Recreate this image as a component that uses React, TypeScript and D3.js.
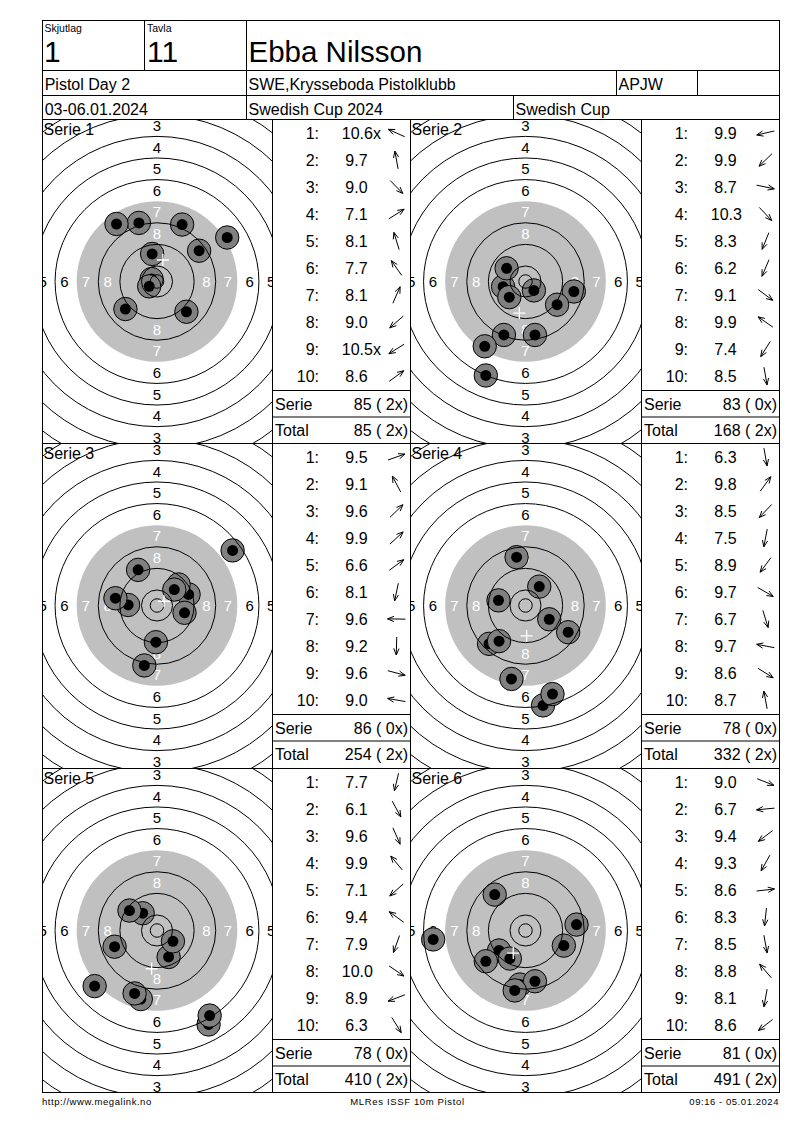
import React from "react";
import * as d3 from "d3";

const FONT = "'Liberation Sans', Arial, Helvetica, sans-serif";

// ---------- data ----------
const seriesNames = ["Serie 1", "Serie 2", "Serie 3", "Serie 4", "Serie 5", "Serie 6"];

const s1Scores = ["10.6x", "9.7", "9.0", "7.1", "8.1", "7.7", "8.1", "9.0", "10.5x", "8.6"];
const s1X = [-2.0, -1.8, 10.9, 26.0, -6.7, -15.0, 9.3, -11.7, -2.9, 15.6];
const s1Y = [0.9, 10.2, -11.2, 16.3, 21.7, 21.3, 21.1, -10.2, -1.8, 11.4];

const s2Scores = ["9.9", "9.9", "8.7", "10.3", "8.3", "6.2", "9.1", "9.9", "7.4", "8.5"];
const s2X = [-8.3, -6.0, 17.9, 3.1, -8.0, -14.7, 11.7, -7.0, -15.1, 3.5];
const s2Y = [-1.9, -5.8, -3.7, -3.3, -19.8, -34.8, -8.6, 4.9, -24.0, -19.8];

const s3Scores = ["9.5", "9.1", "9.6", "9.9", "6.6", "8.1", "9.6", "9.2", "9.6", "9.0"];
const s3X = [11.7, -7.0, 8.0, 6.4, 28.0, -4.7, -10.7, -0.4, 10.2, -15.4];
const s3Y = [4.1, 13.2, 7.8, 5.9, 20.4, -22.2, 0.2, -13.6, -2.7, 2.7];

const s4Scores = ["6.3", "9.8", "8.5", "7.5", "8.9", "9.7", "6.7", "9.7", "8.6", "8.7"];
const s4X = [6.5, 5.1, -13.5, -5.2, -9.8, 8.8, 10.0, -10.0, 15.8, -3.3];
const s4Y = [-37.0, 7.0, -14.2, -27.2, -13.2, -5.1, -32.8, 1.9, -9.9, 17.9];

const s5Scores = ["7.7", "6.1", "9.6", "9.9", "7.1", "9.4", "7.9", "10.0", "8.9", "6.3"];
const s5X = [-6.0, 19.1, 4.3, -5.3, -23.1, -10.2, -8.3, 5.9, -15.7, 19.5];
const s5Y = [-25.4, -34.8, -9.8, 6.4, -20.6, 7.4, -23.3, -4.0, -6.0, -31.5];

const s6Scores = ["9.0", "6.7", "9.4", "9.3", "8.6", "8.3", "8.5", "8.8", "8.1", "8.6"];
const s6X = [14.2, -34.2, -9.8, -5.8, 18.9, -2.1, 3.5, -11.4, -4.0, -14.7];
const s6Y = [-5.6, -3.3, -7.4, -10.4, 2.2, -20.0, -18.8, 13.3, -22.2, -11.4];

const serieSums = ["85 ( 2x)", "83 ( 0x)", "86 ( 0x)", "78 ( 0x)", "78 ( 0x)", "81 ( 0x)"];
const runningTotals = ["85 ( 2x)", "168 ( 2x)", "254 ( 2x)", "332 ( 2x)", "410 ( 2x)", "491 ( 2x)"];

// ISSF 10m air pistol target, ring outer radii in mm (ring 10 .. ring 1)
const ringValues = [10, 9, 8, 7, 6, 5, 4, 3, 2, 1];
const ringRadii = [5.75, 13.75, 21.75, 29.75, 37.75, 45.75, 53.75, 61.75, 69.75, 77.75];
const innerTenRadius = 2.5;
const labelledRings = [8, 7, 6, 5, 4, 3];

// header texts
const headerSkjutlag = "1";
const headerTavla = "11";
const shooterName = "Ebba Nilsson";
const eventName = "Pistol Day 2";
const clubName = "SWE,Krysseboda Pistolklubb";
const classCode = "APJW";
const dateText = "03-06.01.2024";
const competition = "Swedish Cup 2024";
const cupName = "Swedish Cup";
const footerLeft = "http://www.megalink.no";
const footerMid = "MLRes ISSF 10m Pistol";
const footerRight = "09:16 - 05.01.2024";

const seriesData = [
  { scores: s1Scores, xs: s1X, ys: s1Y },
  { scores: s2Scores, xs: s2X, ys: s2Y },
  { scores: s3Scores, xs: s3X, ys: s3Y },
  { scores: s4Scores, xs: s4X, ys: s4Y },
  { scores: s5Scores, xs: s5X, ys: s5Y },
  { scores: s6Scores, xs: s6X, ys: s6Y },
];

// ---------- layout ----------
const LEFT = 42.5;
const RIGHT = 779.5;
const TOP = 20.5;
const colTargetX = [42.5, 410.5];
const colTargetW = [230, 231];
const colTableX = [272.5, 641.5];
const colTableR = [410.5, 779.5];
const rowTop = [119.5, 443.5, 768.5];
const BOTTOM = 1092.5;
const PX_PER_MM = 2.7;

function Target({ idx }: { idx: number }) {
  const row = Math.floor(idx / 2);
  const col = idx % 2;
  const x0 = colTargetX[col];
  const w = colTargetW[col];
  const y0 = rowTop[row];
  const y1 = row < 2 ? rowTop[row + 1] : BOTTOM;
  const h = y1 - y0;
  const cx = x0 + w / 2 - 0.5;
  const cy = y0 + 162;
  const xS = d3.scaleLinear().domain([0, 1]).range([cx, cx + PX_PER_MM]);
  const yS = d3.scaleLinear().domain([0, 1]).range([cy, cy - PX_PER_MM]);
  const rS = d3.scaleLinear().domain([0, 1]).range([0, PX_PER_MM]);
  const data = seriesData[idx];
  const clipId = `clip-t${idx}`;
  const meanX = d3.mean(data.xs) as number;
  const meanY = d3.mean(data.ys) as number;
  const r7 = ringRadii[ringValues.indexOf(7)];

  const labels: React.ReactNode[] = [];
  labelledRings.forEach((v) => {
    const i = ringValues.indexOf(v);
    const rMid = rS((ringRadii[i] + ringRadii[i - 1]) / 2);
    const rH = rMid + 1.5;
    const fill = v >= 7 ? "#ffffff" : "#000000";
    const pos = [
      [cx, cy - rMid],
      [cx, cy + rMid],
      [cx - rH, cy],
      [cx + rH, cy],
    ];
    pos.forEach(([px, py], k) => {
      labels.push(
        <text key={`l${v}-${k}`} x={px} y={py} dy="0.36em" textAnchor="middle" fontSize={15} fill={fill} fontFamily={FONT}>
          {v}
        </text>
      );
    });
  });

  const circles = [innerTenRadius, ...ringRadii.filter((_, i) => ringValues[i] !== 7)];
  const mx = xS(meanX);
  const my = yS(meanY);

  return (
    <g>
      <defs>
        <clipPath id={clipId}>
          <rect x={x0} y={y0} width={w} height={h} />
        </clipPath>
      </defs>
      <g clipPath={`url(#${clipId})`}>
        <rect x={x0} y={y0} width={w} height={h} fill="#ffffff" />
        <circle cx={cx} cy={cy} r={rS(r7)} fill="#c0c0c0" />
        {labels}
        <text x={x0 + 1} y={y0 + 15} fontSize={16} fontFamily={FONT} fill="#000">
          {seriesNames[idx]}
        </text>
        {data.xs.map((sx, i) => (
          <g key={`s${i}`}>
            <circle cx={xS(sx)} cy={yS(data.ys[i])} r={11.7} fill="#808080" stroke="#000" strokeWidth={1} />
            <circle cx={xS(sx)} cy={yS(data.ys[i])} r={5.5} fill="#000" />
          </g>
        ))}
        {circles.map((r, i) => (
          <circle key={`c${i}`} cx={cx} cy={cy} r={rS(r)} fill="none" stroke="#000" strokeWidth={1} />
        ))}
        <line x1={mx - 6} x2={mx + 6} y1={my} y2={my} stroke="#fff" strokeWidth={1.3} />
        <line x1={mx} x2={mx} y1={my - 6} y2={my + 6} stroke="#fff" strokeWidth={1.3} />
      </g>
    </g>
  );
}

function Arrow({ cx, cy, ang }: { cx: number; cy: number; ang: number }) {
  const L = 9;
  const dx = Math.cos(ang);
  const dy = -Math.sin(ang);
  const tx = cx + L * dx;
  const ty = cy + L * dy;
  const sx = cx - L * dx;
  const sy = cy - L * dy;
  const head = 7;
  const spread = (22 * Math.PI) / 180;
  const back = Math.atan2(-dy, -dx);
  const h1x = tx + head * Math.cos(back + spread);
  const h1y = ty + head * Math.sin(back + spread);
  const h2x = tx + head * Math.cos(back - spread);
  const h2y = ty + head * Math.sin(back - spread);
  return (
    <g stroke="#000" strokeWidth={1} fill="none">
      <line x1={sx} y1={sy} x2={tx} y2={ty} />
      <line x1={tx} y1={ty} x2={h1x} y2={h1y} />
      <line x1={tx} y1={ty} x2={h2x} y2={h2y} />
    </g>
  );
}

function ScoreTable({ idx }: { idx: number }) {
  const row = Math.floor(idx / 2);
  const col = idx % 2;
  const tx = colTableX[col];
  const tr = colTableR[col];
  const y0 = rowTop[row];
  const data = seriesData[idx];
  return (
    <g fontFamily={FONT} fontSize={16} fill="#000">
      {data.scores.map((s, i) => {
        const cyRow = y0 + 13.5 + 27 * i;
        const base = cyRow + 5.7;
        const big = parseFloat(s) >= 10;
        return (
          <g key={`r${i}`}>
            <text x={tx + 46.5} y={base} textAnchor="end">{`${i + 1}:`}</text>
            <text x={tx + (big ? 69.3 : 72.8)} y={base}>{s}</text>
            <Arrow cx={tx + 124} cy={cyRow} ang={Math.atan2(data.ys[i], data.xs[i])} />
          </g>
        );
      })}
      <line x1={tx} x2={tr} y1={y0 + 271} y2={y0 + 271} stroke="#000" />
      <line x1={tx} x2={tr} y1={y0 + 297.5} y2={y0 + 297.5} stroke="#000" />
      <text x={tx + 2.5} y={y0 + 290}>Serie</text>
      <text x={tr - 2.5} y={y0 + 290} textAnchor="end">{serieSums[idx]}</text>
      <text x={tx + 2.5} y={y0 + 316.5}>Total</text>
      <text x={tr - 2.5} y={y0 + 316.5} textAnchor="end">{runningTotals[idx]}</text>
    </g>
  );
}

function Header() {
  const L = { stroke: "#000", strokeWidth: 1 };
  return (
    <g fontFamily={FONT} fill="#000">
      <line x1={LEFT} x2={RIGHT} y1={70.5} y2={70.5} {...L} />
      <line x1={LEFT} x2={RIGHT} y1={95.5} y2={95.5} {...L} />
      <line x1={144.5} x2={144.5} y1={TOP} y2={70.5} {...L} />
      <line x1={246.5} x2={246.5} y1={TOP} y2={119.5} {...L} />
      <line x1={616.5} x2={616.5} y1={70.5} y2={95.5} {...L} />
      <line x1={697.5} x2={697.5} y1={70.5} y2={95.5} {...L} />
      <line x1={513.5} x2={513.5} y1={95.5} y2={119.5} {...L} />
      <text x={44.5} y={31.5} fontSize={10.5}>Skjutlag</text>
      <text x={147} y={31.5} fontSize={10.5}>Tavla</text>
      <text x={44} y={62.3} fontSize={30}>{headerSkjutlag}</text>
      <text x={147} y={62.3} fontSize={30}>{headerTavla}</text>
      <text x={248.5} y={62.3} fontSize={29.5}>{shooterName}</text>
      <text x={44.7} y={90.3} fontSize={16}>{eventName}</text>
      <text x={248.5} y={90.3} fontSize={16}>{clubName}</text>
      <text x={618.5} y={90.3} fontSize={16}>{classCode}</text>
      <text x={44.7} y={114.8} fontSize={16}>{dateText}</text>
      <text x={248.5} y={114.8} fontSize={16}>{competition}</text>
      <text x={515.5} y={114.8} fontSize={16}>{cupName}</text>
    </g>
  );
}

export default function App() {
  const L = { stroke: "#000", strokeWidth: 1 };
  return (
    <svg
      width={800}
      height={1130}
      viewBox="0 0 800 1130"
      style={{ position: "absolute", left: 0, top: 0, background: "#fff" }}
    >
      <rect x={0} y={0} width={800} height={1130} fill="#fff" />
      {seriesNames.map((_, i) => (
        <Target key={`t${i}`} idx={i} />
      ))}
      {seriesNames.map((_, i) => (
        <ScoreTable key={`st${i}`} idx={i} />
      ))}
      <Header />
      {/* grid lines */}
      {rowTop.map((y, i) => (
        <line key={`h${i}`} x1={LEFT} x2={RIGHT} y1={y} y2={y} {...L} />
      ))}
      {[...colTargetX, ...colTableX].map((x, i) => (
        <line key={`v${i}`} x1={x} x2={x} y1={119.5} y2={BOTTOM} {...L} />
      ))}
      <rect x={LEFT} y={TOP} width={RIGHT - LEFT} height={BOTTOM - TOP} fill="none" {...L} />
      <g fontFamily={FONT} fontSize={9.5} fill="#000">
        <text x={42} y={1105} letterSpacing={0.55}>{footerLeft}</text>
        <text x={407.5} y={1105} textAnchor="middle" letterSpacing={0.65}>{footerMid}</text>
        <text x={779} y={1105} textAnchor="end" letterSpacing={0.55}>{footerRight}</text>
      </g>
    </svg>
  );
}
